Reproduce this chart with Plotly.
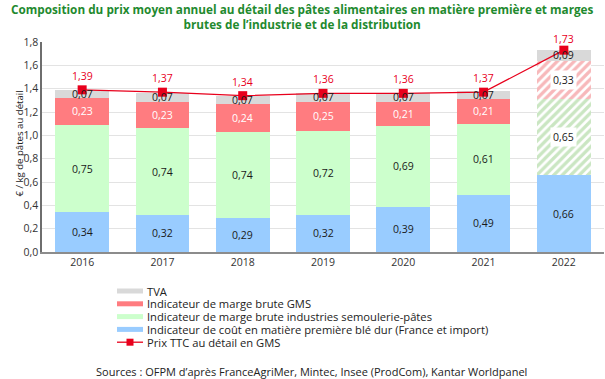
import plotly.graph_objects as go

years = ["2016", "2017", "2018", "2019", "2020", "2021", "2022"]
cout_ble = [0.34, 0.32, 0.29, 0.32, 0.39, 0.49, 0.66]
marge_industrie = [0.75, 0.74, 0.74, 0.72, 0.69, 0.61, 0.65]
marge_gms = [0.23, 0.23, 0.24, 0.25, 0.21, 0.21, 0.33]
tva = [0.07, 0.07, 0.07, 0.07, 0.07, 0.07, 0.09]
prix_ttc = [1.39, 1.37, 1.34, 1.36, 1.36, 1.37, 1.73]
estimated = [False, False, False, False, False, False, True]

names = {
    "tva": "TVA",
    "gms": "Indicateur de marge brute GMS",
    "ind": "Indicateur de marge brute industries semoulerie-pâtes",
    "ble": "Indicateur de coût en matière première blé dur (France et import)",
    "prix": "Prix TTC au détail en GMS",
}
title_text = ("Composition du prix moyen annuel au détail des pâtes alimentaires en matière première et marges"
              "<br>brutes de l’industrie et de la distribution")
source_text = "Sources : OFPM d’après FranceAgriMer, Mintec, Insee (ProdCom), Kantar Worldpanel"
y_title = "€ / kg de pâtes au détail"

FONT = "Open Sans"
C_BLE = "#99ccff"
C_IND = "#ccffcc"
C_GMS = "#ff7c80"
C_TVA = "#d9d9d9"
C_LINE = "#e8001c"
H_IND = "#96cd86"
H_GMS = "#ef7276"

W, H = 605, 379
ml, mr, mt, mb = 42, 1, 42, 127
pw, ph = W - ml - mr, H - mt - mb


def px_to_paper_x(px):
    return (px - ml) / pw


def px_to_paper_y(py):
    return (H - mb - py) / ph


def fmt(v):
    return f"{v:.2f}".replace(".", ",")


fig = go.Figure()

series = [
    ("ble", cout_ble, C_BLE, None, "#1a1a1a"),
    ("ind", marge_industrie, C_IND, H_IND, "#1a1a1a"),
    ("gms", marge_gms, C_GMS, H_GMS, "white"),
    ("tva", tva, C_TVA, None, "#1a1a1a"),
]

base = [0.0] * len(years)
annotations = []
for key, vals, col, hatch, tcol in series:
    if hatch:
        solid = [None if e else v for v, e in zip(vals, estimated)]
        hatched = [v if e else None for v, e in zip(vals, estimated)]
        fig.add_trace(go.Bar(x=years, y=solid, name=names[key],
                             marker=dict(color=col, line=dict(width=0)),
                             showlegend=False, hoverinfo="skip"))
        fig.add_trace(go.Bar(x=years, y=hatched, name=names[key] + " (estimation)",
                             marker=dict(color="white", line=dict(width=0),
                                         pattern=dict(shape="/", fgcolor=hatch,
                                                      bgcolor="white",
                                                      fillmode="overlay",
                                                      size=6, solidity=0.55)),
                             showlegend=False, hoverinfo="skip"))
    else:
        fig.add_trace(go.Bar(x=years, y=vals, name=names[key],
                             marker=dict(color=col, line=dict(width=0)),
                             showlegend=False, hoverinfo="skip"))
    for i, v in enumerate(vals):
        boxed = bool(hatch) and estimated[i]
        annotations.append(dict(
            x=i, y=base[i] + v / 2, xref="x", yref="y", text=fmt(v),
            showarrow=False,
            font=dict(family=FONT, size=10.5,
                      color="#1a1a1a" if boxed else tcol),
            bgcolor="white" if boxed else None,
            borderpad=2,
        ))
        base[i] += v

fig.add_trace(go.Scatter(
    x=years, y=prix_ttc, mode="lines+markers", name=names["prix"],
    line=dict(color=C_LINE, width=1.3),
    marker=dict(symbol="square", size=9, color=C_LINE),
    showlegend=False, hoverinfo="skip",
))
for i, v in enumerate(prix_ttc):
    annotations.append(dict(
        x=i, y=v, xref="x", yref="y", text=fmt(v), showarrow=False,
        yshift=14 if i < 6 else 11,
        font=dict(family=FONT, size=10.5, color=C_LINE),
    ))

# y-axis title
annotations.append(dict(
    x=px_to_paper_x(10), y=px_to_paper_y(89), xref="paper", yref="paper",
    text=y_title, textangle=-90, showarrow=False,
    font=dict(family=FONT, size=9.6, color="#222"),
))

# title
annotations.append(dict(
    x=px_to_paper_x(302), y=px_to_paper_y(17), xref="paper", yref="paper",
    text="<b>" + title_text + "</b>", showarrow=False,
    xanchor="center", yanchor="middle",
    font=dict(family=FONT, size=11.75, color="#1f8a2f"),
))

# manual legend
leg_items = [
    ("tva", C_TVA, "bar"),
    ("gms", C_GMS, "bar"),
    ("ind", C_IND, "bar"),
    ("ble", C_BLE, "bar"),
    ("prix", C_LINE, "line"),
]
shapes = []
x0, x1 = 117, 143

for k, (key, col, kind) in enumerate(leg_items):
    yc = 291 + k * 12.8
    if kind == "bar":
        shapes.append(dict(type="rect", xref="paper", yref="paper",
                           x0=px_to_paper_x(x0), x1=px_to_paper_x(x1),
                           y0=px_to_paper_y(yc + 2.5), y1=px_to_paper_y(yc - 2.5),
                           fillcolor=col, line=dict(width=0)))
    else:
        shapes.append(dict(type="line", xref="paper", yref="paper",
                           x0=px_to_paper_x(x0), x1=px_to_paper_x(x1),
                           y0=px_to_paper_y(yc), y1=px_to_paper_y(yc),
                           line=dict(color=col, width=1.3)))
        shapes.append(dict(type="rect", xref="paper", yref="paper",
                           x0=px_to_paper_x(126.5), x1=px_to_paper_x(133.5),
                           y0=px_to_paper_y(yc + 3.5), y1=px_to_paper_y(yc - 3.5),
                           fillcolor=col, line=dict(width=0)))
    annotations.append(dict(
        x=px_to_paper_x(146), y=px_to_paper_y(yc), xref="paper", yref="paper",
        xanchor="left", yanchor="middle", text=names[key], showarrow=False,
        font=dict(family=FONT, size=11.2, color="#222"), borderpad=0,
    ))

annotations.append(dict(
    x=px_to_paper_x(311), y=px_to_paper_y(371), xref="paper", yref="paper",
    text=source_text,
    showarrow=False, xanchor="center", yanchor="middle",
    font=dict(family=FONT, size=11, color="#222"),
))

fig.update_layout(
    width=W, height=H,
    margin=dict(l=ml, r=mr, t=mt, b=mb),
    barmode="stack", bargap=0.33,
    plot_bgcolor="white", paper_bgcolor="white",
    separators=", ",
    xaxis=dict(type="category", range=[-0.5, len(years) - 0.5],
               showline=True, linecolor="#8c8c8c", linewidth=1.5,
               ticks="", tickfont=dict(family=FONT, size=10.5, color="#333"),
               showgrid=False),
    yaxis=dict(range=[0, 1.8], dtick=0.2, tickformat=".1f",
               showgrid=True, gridcolor="#e3e3e3", gridwidth=1,
               showline=True, linecolor="#6e6e6e", linewidth=1.5,
               zeroline=False, ticks="",
               tickfont=dict(family=FONT, size=10.5, color="#333")),
    annotations=annotations,
    shapes=shapes,
    showlegend=False,
    font=dict(family=FONT),
)

fig.write_html("out.html", config={"displayModeBar": False},
               post_script="document.body.style.margin='0';document.body.style.overflow='hidden';")
